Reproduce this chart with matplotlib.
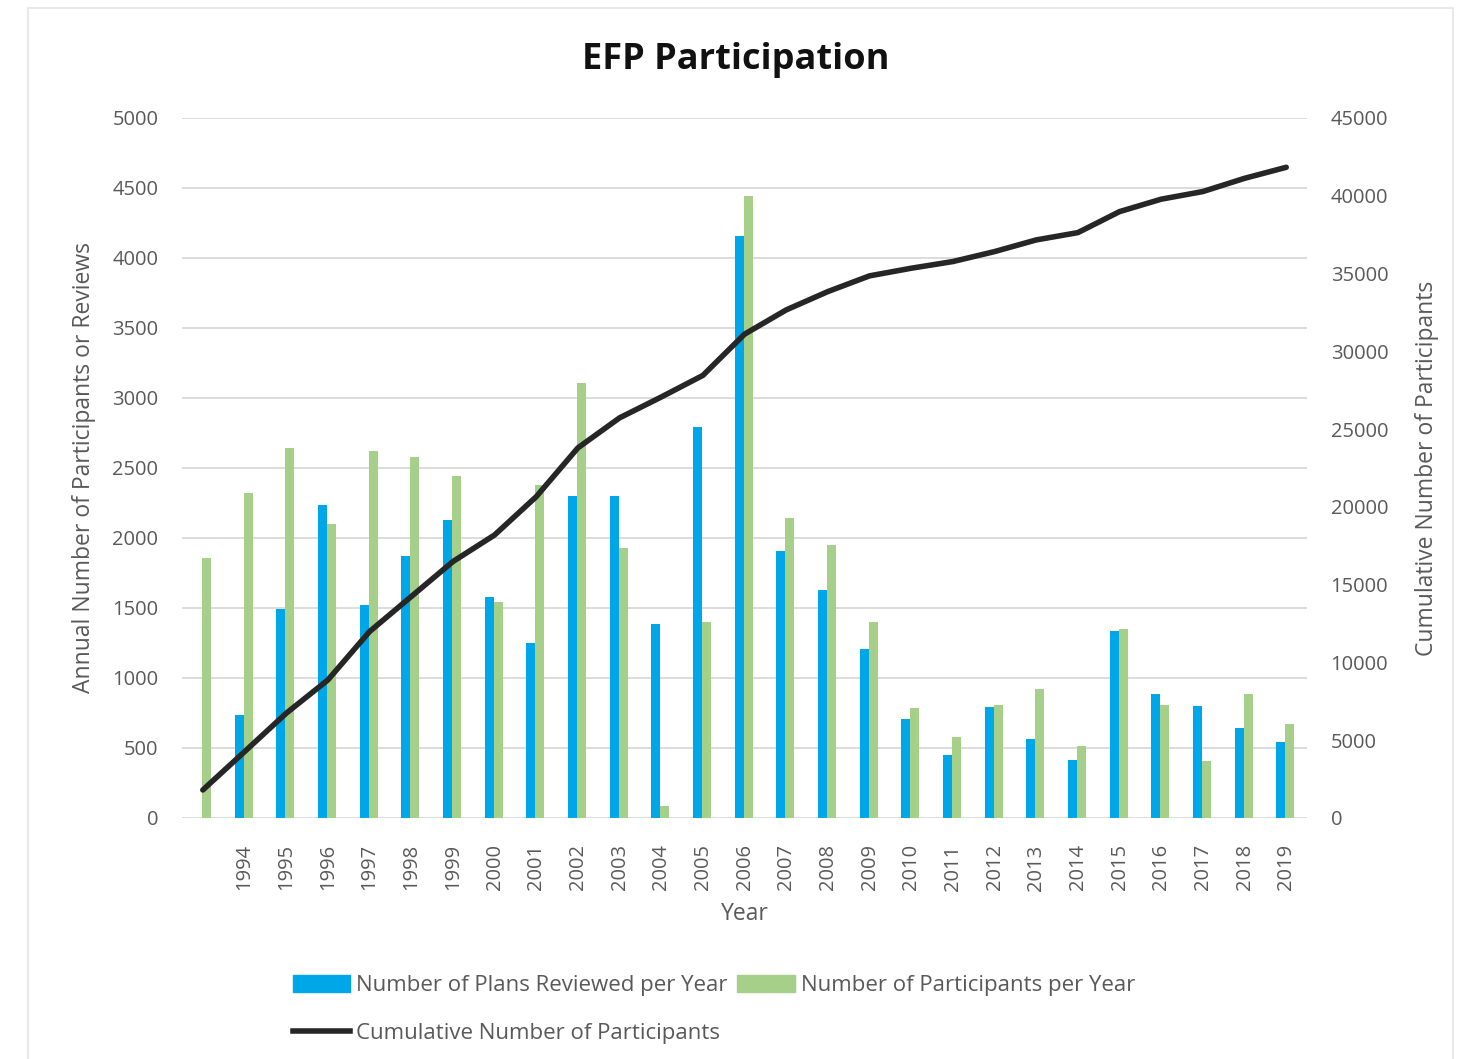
import numpy as np
import matplotlib
matplotlib.use("Agg")
import matplotlib.pyplot as plt
from matplotlib.patches import Patch, Rectangle
from matplotlib.lines import Line2D

plt.rcParams['font.family'] = ['Open Sans', 'DejaVu Sans']

years = [''] + [str(y) for y in range(1994, 2020)]
plans = [0, 735, 1490, 2235, 1520, 1870, 2130, 1575, 1250, 2300, 2300, 1385,
         2795, 4160, 1910, 1630, 1205, 710, 452, 795, 567, 412, 1338, 882, 798, 643, 543]
participants = [1860, 2320, 2640, 2100, 2620, 2580, 2445, 1545, 2380, 3110, 1930, 83,
                1400, 4445, 2140, 1950, 1400, 786, 580, 810, 924, 512, 1352, 810, 405, 888, 669]
cumulative = [1800, 4260, 6730, 8870, 11980, 14230, 16480, 18190, 20650, 23790, 25720, 27060,
              28450, 31100, 32660, 33840, 34850, 35340, 35770, 36410, 37160, 37630, 38980,
              39780, 40270, 41120, 41830]

blue = '#00A7E8'
green = '#A6CF8A'
dark = '#262626'
grey = '#595959'

fig = plt.figure(figsize=(14.63, 10.59), dpi=100)
fig.patches.append(Rectangle((0.019, -0.01), 0.974, 1.002, transform=fig.transFigure,
                             facecolor='white', edgecolor='#E4E4E4', lw=1.2, zorder=-1))

ax = fig.add_axes([0.1244, 0.2276, 0.769, 0.661])
x = np.arange(len(years))
w = 0.215
ax.bar(x - w / 2 - 0.02, plans, width=w, color=blue, zorder=2)
ax.bar(x + w / 2 - 0.02, participants, width=w, color=green, zorder=2)
ax.set_xlim(-0.5, len(years) - 0.5)
ax.set_ylim(0, 5000)
ax.set_yticks(np.arange(0, 5001, 500))
ax.grid(axis='y', color='#D9D9D9', lw=1.3, zorder=0)
ax.set_axisbelow(True)
for s in ax.spines.values():
    s.set_visible(False)
ax.tick_params(axis='both', length=0, colors=grey, labelsize=14.5)
ax.tick_params(axis='y', pad=17)
ax.tick_params(axis='x', pad=19)
ax.set_xticks(x)
ax.set_xticklabels(years, rotation=90)
ax.set_xlabel('Year', color=grey, fontsize=16.5, labelpad=8)
ax.set_ylabel('Annual Number of Participants or Reviews', color=grey, fontsize=16.5,
              labelpad=12)

ax2 = ax.twinx()
ax2.plot(x, cumulative, color=dark, lw=4, solid_capstyle='round', zorder=3)
ax2.set_ylim(0, 45000)
ax2.set_yticks(np.arange(0, 45001, 5000))
for s in ax2.spines.values():
    s.set_visible(False)
ax2.tick_params(axis='y', length=0, colors=grey, labelsize=14.5, pad=17)
ax2.set_ylabel('Cumulative Number of Participants', color=grey, fontsize=16.5, labelpad=19)

fig.text(0.503, 0.943, 'EFP Participation', fontsize=26, fontweight='bold',
         color='#111111', ha='center', va='center')

handles = [Patch(color=blue), Line2D([0], [0], color=dark, lw=4), Patch(color=green)]
labels = ['Number of Plans Reviewed per Year', 'Cumulative Number of Participants',
          'Number of Participants per Year']
fig.legend(handles, labels, ncol=2, loc='upper left', bbox_to_anchor=(0.2, 0.079),
           frameon=False, fontsize=16, labelcolor=grey, handlelength=2.6,
           handleheight=0.75, handletextpad=0.25, columnspacing=0.45, labelspacing=1.2,
           borderpad=0, borderaxespad=0)

fig.savefig('out.png', dpi=100)
